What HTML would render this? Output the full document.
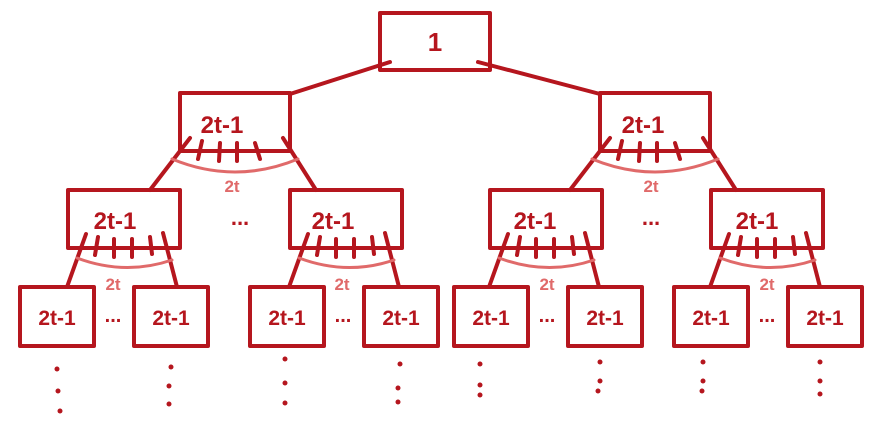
<!DOCTYPE html>
<html><head><meta charset="utf-8"><style>
html,body{margin:0;padding:0;background:#fff;width:890px;height:436px;overflow:hidden}
svg{display:block}
.s{fill:none;stroke:#b5161e;stroke-width:4;stroke-linecap:round;stroke-linejoin:round}
.a{fill:none;stroke:#e06a6a;stroke-width:3;stroke-linecap:round}
.t{font-family:"Liberation Sans",sans-serif;font-weight:bold;fill:#b5161e}
.l{font-family:"Liberation Sans",sans-serif;font-weight:bold;fill:#e06a6a;font-size:17px}
.d{fill:#b5161e}
</style></head><body>
<svg width="890" height="436" viewBox="0 0 890 436" xmlns="http://www.w3.org/2000/svg">
<defs>
<g id="f1">
<rect class="s" x="0" y="0" width="110" height="58"/>
<path class="s" d="M10 45 L-30 97 M103 45 L136 97 M22 48 L18 66 M40 50 L39 68 M57 50 L57 68 M75 50 L80 66"/>
<path class="a" d="M-8 66 Q55 92 118 66"/>
</g>
<g id="f2">
<rect class="s" x="0" y="0" width="112" height="58"/>
<path class="s" d="M18 44 L-1 97 M95 43 L109 97 M30 47 L27 65 M46 49 L46 67 M64 49 L64 67 M82 47 L84 64"/>
<path class="a" d="M9 68 Q57 86 104 70"/>
</g>
<g id="b3"><rect class="s" x="0" y="0" width="74" height="59"/></g>
</defs>
<!-- root -->
<rect class="s" x="380" y="13" width="110" height="57"/>
<text class="t" x="435" y="51" font-size="26" text-anchor="middle">1</text>
<path class="s" d="M390 62 L290 94 M478 62 L600 94"/>
<!-- level1 -->
<use href="#f1" x="180" y="93"/>
<use href="#f1" x="600" y="93"/>
<text class="t" x="222" y="133" font-size="24" text-anchor="middle">2t-1</text>
<text class="t" x="643" y="133" font-size="24" text-anchor="middle">2t-1</text>
<text class="l" x="232" y="192" text-anchor="middle">2t</text>
<text class="l" x="651" y="192" text-anchor="middle">2t</text>
<text class="t" x="240" y="225" font-size="22" text-anchor="middle">...</text>
<text class="t" x="651" y="225" font-size="22" text-anchor="middle">...</text>
<!-- level2 -->
<use href="#f2" x="68" y="190"/>
<use href="#f2" x="290" y="190"/>
<use href="#f2" x="490" y="190"/>
<use href="#f2" x="711" y="190"/>
<text class="t" x="115" y="229" font-size="24" text-anchor="middle">2t-1</text>
<text class="t" x="333" y="229" font-size="24" text-anchor="middle">2t-1</text>
<text class="t" x="535" y="229" font-size="24" text-anchor="middle">2t-1</text>
<text class="t" x="757" y="229" font-size="24" text-anchor="middle">2t-1</text>
<text class="l" x="113" y="290" text-anchor="middle">2t</text>
<text class="l" x="342" y="290" text-anchor="middle">2t</text>
<text class="l" x="547" y="290" text-anchor="middle">2t</text>
<text class="l" x="767" y="290" text-anchor="middle">2t</text>
<!-- level3 -->
<use href="#b3" x="20" y="287"/><use href="#b3" x="134" y="287"/>
<use href="#b3" x="250" y="287"/><use href="#b3" x="364" y="287"/>
<use href="#b3" x="454" y="287"/><use href="#b3" x="568" y="287"/>
<use href="#b3" x="674" y="287"/><use href="#b3" x="788" y="287"/>
<g class="t" font-size="21" text-anchor="middle">
<text x="57" y="325">2t-1</text><text x="171" y="325">2t-1</text>
<text x="287" y="325">2t-1</text><text x="401" y="325">2t-1</text>
<text x="491" y="325">2t-1</text><text x="605" y="325">2t-1</text>
<text x="711" y="325">2t-1</text><text x="825" y="325">2t-1</text>
</g>
<g class="t" font-size="20" text-anchor="middle">
<text x="113" y="322">...</text><text x="343" y="322">...</text>
<text x="547" y="322">...</text><text x="767" y="322">...</text>
</g>
<!-- vertical dots -->
<g class="d">
<circle cx="57" cy="369" r="2.5"/><circle cx="58" cy="391" r="2.5"/><circle cx="60" cy="411" r="2.5"/>
<circle cx="171" cy="367" r="2.5"/><circle cx="169" cy="386" r="2.5"/><circle cx="169" cy="404" r="2.5"/>
<circle cx="285" cy="359" r="2.5"/><circle cx="285" cy="383" r="2.5"/><circle cx="285" cy="403" r="2.5"/>
<circle cx="400" cy="364" r="2.5"/><circle cx="398" cy="388" r="2.5"/><circle cx="398" cy="402" r="2.5"/>
<circle cx="480" cy="364" r="2.5"/><circle cx="480" cy="385" r="2.5"/><circle cx="480" cy="395" r="2.5"/>
<circle cx="600" cy="362" r="2.5"/><circle cx="600" cy="381" r="2.5"/><circle cx="598" cy="391" r="2.5"/>
<circle cx="703" cy="362" r="2.5"/><circle cx="703" cy="381" r="2.5"/><circle cx="702" cy="391" r="2.5"/>
<circle cx="820" cy="362" r="2.5"/><circle cx="820" cy="381" r="2.5"/><circle cx="820" cy="394" r="2.5"/>
</g>
</svg>
</body></html>
